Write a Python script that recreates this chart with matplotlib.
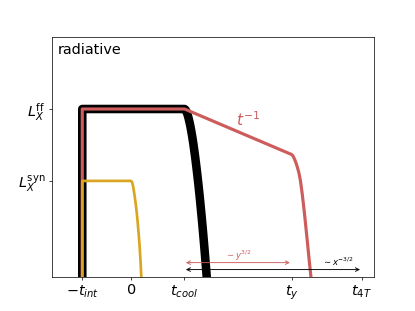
import matplotlib
matplotlib.use("Agg")
import matplotlib.pyplot as plt

# --- data (schematic light curves) ---
tick_x = [-1.0, 0.0, 1.09, 3.30, 4.74]
tick_x_labels = [r"$-t_{int}$", r"$0$", r"$t_{cool}$", r"$t_{y}$", r"$t_{4T}$"]
tick_y = [0.40, 0.70]
tick_y_labels = [r"$L_X^{\mathrm{syn}}$", r"$L_X^{\mathrm{ff}}$"]

black_x = [-1.0, -1.0, 1.10, 1.12, 1.14, 1.16, 1.18, 1.20, 1.22, 1.24, 1.26, 1.28,
           1.30, 1.32, 1.34, 1.36, 1.38, 1.40, 1.42, 1.44, 1.46, 1.48, 1.50,
           1.52, 1.54, 1.56, 1.58]
black_y = [-0.10, 0.70, 0.70, 0.697, 0.689, 0.678, 0.664, 0.647, 0.628, 0.606,
           0.582, 0.556, 0.527, 0.497, 0.464, 0.430, 0.394, 0.356, 0.316, 0.274,
           0.231, 0.186, 0.139, 0.090, 0.040, -0.012, -0.065]

red_x = [-1.0, -1.0, 1.10, 3.30, 3.33, 3.36, 3.39, 3.42, 3.45, 3.48, 3.51, 3.54,
         3.57, 3.60, 3.63, 3.66, 3.69, 3.72]
red_y = [-0.10, 0.70, 0.70, 0.510, 0.503, 0.490, 0.474, 0.455, 0.432, 0.400,
         0.356, 0.305, 0.250, 0.190, 0.130, 0.068, 0.010, -0.05]

yellow_x = [-1.0, -1.0, 0.0, 0.02, 0.04, 0.06, 0.08, 0.10, 0.12, 0.14, 0.16,
            0.18, 0.20, 0.212, 0.222]
yellow_y = [-0.10, 0.40, 0.40, 0.396, 0.382, 0.358, 0.330, 0.300, 0.265, 0.222,
            0.175, 0.120, 0.050, 0.0, -0.04]

red_arrow = (1.09, 3.30, 0.059)
black_arrow = (1.09, 4.74, 0.030)

RED = "#CD5C5C"
YELLOW = "#DAA520"

fig, ax = plt.subplots(figsize=(6.4, 4.8), dpi=415 / 6.4)

ax.plot(black_x, black_y, color="black", lw=9.5)
ax.plot(red_x, red_y, color=RED, lw=3.5)
ax.plot(yellow_x, yellow_y, color=YELLOW, lw=3)

ax.annotate("", xy=(red_arrow[1], red_arrow[2]), xytext=(red_arrow[0], red_arrow[2]),
            arrowprops=dict(arrowstyle="<->", color=RED, lw=1))
ax.annotate("", xy=(black_arrow[1], black_arrow[2]), xytext=(black_arrow[0], black_arrow[2]),
            arrowprops=dict(arrowstyle="<->", color="black", lw=1))

ax.text(2.20, 0.087, r"$\sim y^{3/2}$", color=RED, fontsize=9.5, ha="center", va="center")
ax.text(4.25, 0.063, r"$\sim x^{-3/2}$", color="black", fontsize=9.5, ha="center", va="center")
ax.text(2.40, 0.655, r"$t^{-1}$", color=RED, fontsize=17, ha="center", va="center")

ax.text(0.017, 0.975, "radiative", transform=ax.transAxes, fontsize=16, ha="left", va="top")

ax.set_xlim(-1.624, 4.98)
ax.set_ylim(0, 1)
ax.set_xticks(tick_x)
ax.set_xticklabels(tick_x_labels, fontsize=16)
ax.set_yticks(tick_y)
ax.set_yticklabels(tick_y_labels, fontsize=16)

fig.savefig("out.png", dpi=415 / 6.4)
